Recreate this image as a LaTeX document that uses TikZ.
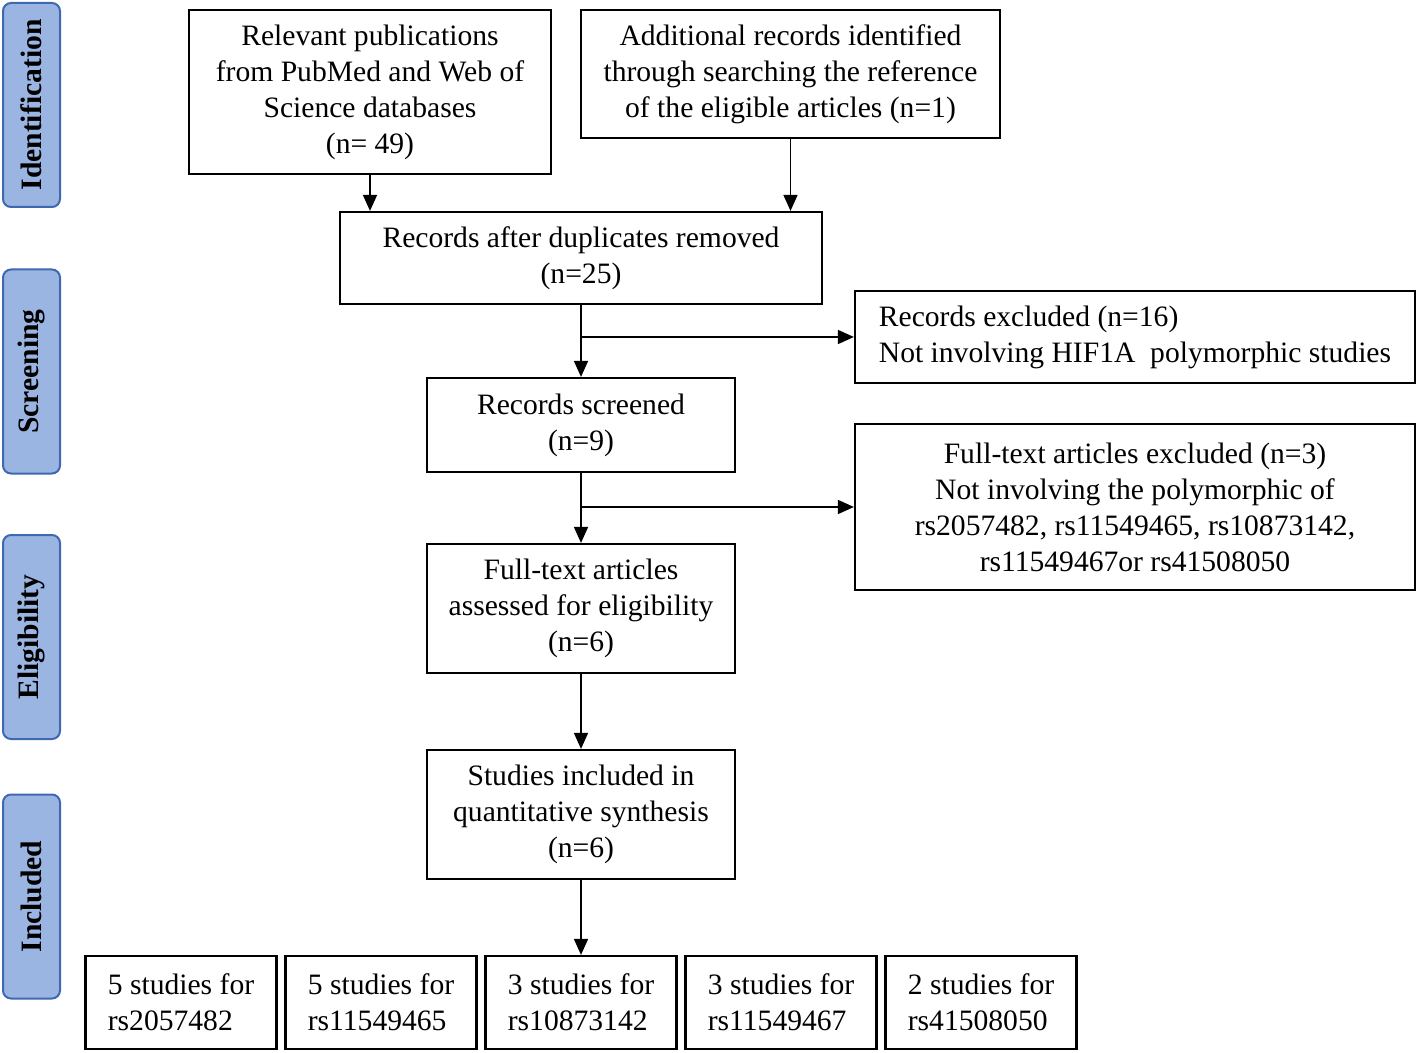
\documentclass[tikz,border=0pt]{standalone}
\usepackage{fontspec}
\setmainfont{Liberation Serif}
\usetikzlibrary{positioning,chains,arrows.meta}
\definecolor{sidefill}{RGB}{155,181,226}
\definecolor{sideline}{RGB}{62,104,178}

\begin{document}
\begin{tikzpicture}[x=0.5pt, y=-0.5pt,
  box/.style={draw, line width=1.1pt, inner sep=0pt, align=center,
    font=\fontsize{14.8}{18}\selectfont},
  side/.style={draw=sideline, fill=sidefill, line width=1pt, rounded corners=4pt,
    rotate=90, minimum width=102pt, minimum height=28.5pt, inner sep=0pt,
    font=\fontsize{14.8}{18}\selectfont\bfseries},
  study/.style={box, minimum width=95.5pt, minimum height=46.5pt, align=left},
  >={Triangle[width=7pt,length=8pt]}, start chain=going right, node distance=3.4pt]
  \useasboundingbox (0,0) rectangle (1418,1053);
  % phase labels
  \node[side] (idf) at (31.5,105) {Identification};
  \node[side] (scn) at (31.5,371.5) {Screening};
  \node[side] (elg) at (31.5,637) {Eligibility};
  \node[side] (inc) at (31.5,896.5) {Included};
  % flow boxes
  \node[box, minimum width=181pt, minimum height=82pt] (pub) at (370,92)
    {Relevant publications\\from PubMed and Web of\\Science databases\\(n= 49)};
  \node[box, minimum width=209.5pt, minimum height=64pt] (add) at (790.5,74)
    {Additional records identified\\through searching the reference\\of the eligible articles (n=1)};
  \node[box, minimum width=241pt, minimum height=46pt] (dup) at (581,258)
    {Records after duplicates removed\\(n=25)};
  \node[box, minimum width=280pt, minimum height=46pt, align=left] (exc1) at (1135,337)
    {Records excluded (n=16)\\Not involving HIF1A~ polymorphic studies};
  \node[box, minimum width=154pt, minimum height=47pt] (scr) at (581,425)
    {Records screened\\(n=9)};
  \node[box, minimum width=280pt, minimum height=83pt] (exc2) at (1135,507)
    {Full-text articles excluded (n=3)\\Not involving the polymorphic of\\rs2057482, rs11549465, rs10873142,\\rs11549467or rs41508050};
  \node[box, minimum width=154pt, minimum height=64.5pt] (full) at (581,608.5)
    {Full-text articles\\assessed for eligibility\\(n=6)};
  \node[box, minimum width=154pt, minimum height=64.5pt] (incl) at (581,814.5)
    {Studies included in\\quantitative synthesis\\(n=6)};
  % studies per polymorphism
  \node[study, on chain] (s1) at (181,1002.5) {5 studies for\\rs2057482};
  \node[study, on chain] (s2) {5 studies for\\rs11549465};
  \node[study, on chain] (s3) {3 studies for\\rs10873142};
  \node[study, on chain] (s4) {3 studies for\\rs11549467};
  \node[study, on chain] (s5) {2 studies for\\rs41508050};
  % connectors
  \coordinate (b1) at (dup |- exc1.west);
  \coordinate (b2) at (scr |- exc2.west);
  \begin{scope}[line width=0.8pt]
  \draw[->] (pub) -- (pub |- dup.north);
  \draw[->] (add) -- (add |- dup.north);
  \draw[->] (dup) -- (scr);
  \draw[->] (b1) -- (exc1);
  \draw[->] (scr) -- (full);
  \draw[->] (b2) -- (exc2);
  \draw[->] (full) -- (incl);
  \draw[->] (incl) -- (incl |- s3.north);
  \end{scope}
\end{tikzpicture}
\end{document}
